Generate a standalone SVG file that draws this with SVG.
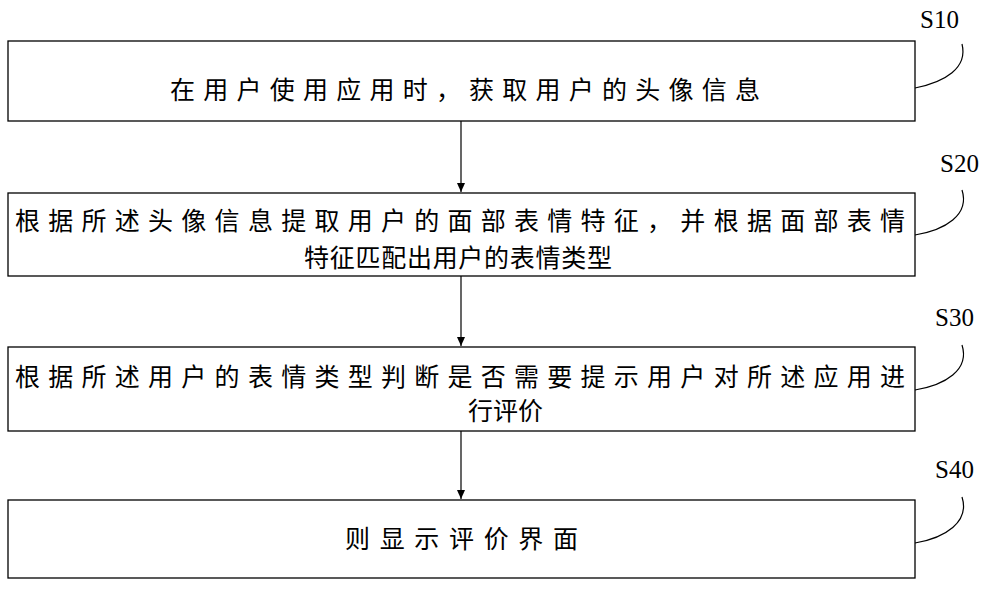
<svg xmlns="http://www.w3.org/2000/svg" width="1000" height="591" viewBox="0 0 1000 591">
<style>
.b{fill:#fff;stroke:#000;stroke-width:1.3}
.t{font-family:"Liberation Serif","Noto Sans CJK SC",serif;font-size:25px;fill:#000}
.l{font-family:"Liberation Serif",serif;font-size:25px;fill:#000}
.c{fill:none;stroke:#000;stroke-width:1.2}
</style>
<defs><marker id="a" markerWidth="10" markerHeight="10" refX="9" refY="5" orient="auto" markerUnits="userSpaceOnUse"><path d="M0,1 L9,5 L0,9 Z" fill="#000"/></marker></defs>
<rect width="1000" height="591" fill="#fff"/>
<g id="n1"><rect class="b" x="8" y="41" width="907" height="80"/><text class="t" x="170" y="99" textLength="590" lengthAdjust="spacing">在用户使用应用时，获取用户的头像信息</text></g>
<g id="n2"><rect class="b" x="8" y="193" width="907" height="83"/><text class="t" x="15" y="230" textLength="890" lengthAdjust="spacing">根据所述头像信息提取用户的面部表情特征，并根据面部表情</text><text class="t" x="304" y="267" textLength="308" lengthAdjust="spacing">特征匹配出用户的表情类型</text></g>
<g id="n3"><rect class="b" x="8" y="347" width="907" height="84"/><text class="t" x="15" y="386" textLength="890" lengthAdjust="spacing">根据所述用户的表情类型判断是否需要提示用户对所述应用进</text><text class="t" x="468" y="420">行评价</text></g>
<g id="n4"><rect class="b" x="8" y="500" width="907" height="78"/><text class="t" x="345" y="548" textLength="233" lengthAdjust="spacing">则显示评价界面</text></g>
<g id="labels"><text class="l" x="920" y="28">S10</text><text class="l" x="940" y="172">S20</text><text class="l" x="935" y="326">S30</text><text class="l" x="935" y="478">S40</text></g>
<g id="connectors">
<line class="c" x1="461" y1="121" x2="461" y2="192" marker-end="url(#a)"/>
<line class="c" x1="461" y1="276" x2="461" y2="346" marker-end="url(#a)"/>
<line class="c" x1="461" y1="431" x2="461" y2="499" marker-end="url(#a)"/>
<path class="c" d="M915,88 C945,82 968,68 962,44"/>
<path class="c" d="M915,235 C945,230 970,215 962,190"/>
<path class="c" d="M915,390 C945,385 970,370 962,345"/>
<path class="c" d="M915,543 C945,538 970,522 962,497"/>
</g>
</svg>
